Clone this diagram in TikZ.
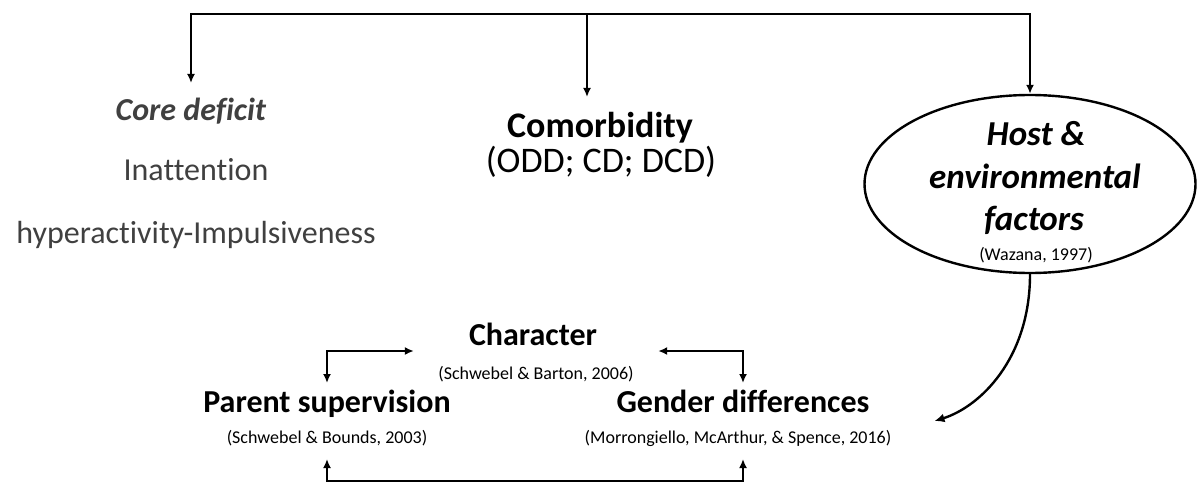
\documentclass[tikz,border=0pt]{standalone}
\usepackage{fontspec}
\setmainfont[Ligatures=NoCommon]{Carlito}
\usetikzlibrary{arrows.meta,shapes.geometric}
\definecolor{txtgray}{RGB}{64,64,64}
\begin{document}
\begin{tikzpicture}[x=1pt,y=-1pt,
  lbl/.style={inner sep=0pt, anchor=base},
  f32/.style={font=\fontsize{32}{38}\selectfont, text height=23pt, text depth=7pt},
  f36/.style={font=\fontsize{36}{42}\selectfont, text height=26pt, text depth=8pt},
  f35/.style={font=\fontsize{35}{42}\selectfont\bfseries\itshape},
  cite/.style={font=\fontsize{18}{22}\selectfont, text height=13pt, text depth=4pt},
  arr/.style={line width=1.9pt, -{Latex[length=9pt,width=8pt]}},
  biarr/.style={line width=1.9pt, {Latex[length=9pt,width=8pt]}-{Latex[length=9pt,width=8pt]}},
  ]
\useasboundingbox (0,0) rectangle (1198,484);

% left column
\node[lbl,f32,txtgray,outer ysep=15pt] (core) at (191,121) {\textbf{\textit{Core deficit}}};
\node[lbl,f32,txtgray] (inatt) at (196,180) {Inattention};
\node[lbl,f32,txtgray] (hyper) at (196,243) {hyperactivity-Impulsiveness};

% comorbidity
\node[lbl,f36,outer ysep=14pt] (comorb) at (600,137) {\textbf{Comorbidity}};
\node[lbl,f36] (odd) at (601,172) {(ODD; CD; DCD)};

% host ellipse
\node[draw, ellipse, line width=2.4pt, minimum width=331pt, minimum height=178pt, inner sep=0pt] (host) at (1030,184) {};
\node[lbl,f35] (hostA) at (1036,145) {Host \&};
\node[lbl,f35] (hostB) at (1035,188) {environmental};
\node[lbl,f35] (hostC) at (1034,230) {factors};
\node[lbl,cite] (hostD) at (1036,260) {(Wazana, 1997)};

% bottom group
\node[lbl,f32] (char) at (533,345) {\textbf{Character}};
\node[lbl,cite] (charcite) at (536,379) {(Schwebel \& Barton, 2006)};
\node[lbl,f32,outer ysep=6pt] (parent) at (327,412) {\textbf{Parent supervision}};
\node[lbl,cite,outer ysep=12pt] (parentcite) at (327,443) {(Schwebel \& Bounds, 2003)};
\node[lbl,f32,outer ysep=6pt] (gender) at (743,412) {\textbf{Gender differences}};
\node[lbl,cite,outer ysep=12pt] (gendercite) at (738,443) {(Morrongiello, McArthur, \& Spence, 2016)};

% top connectors
\coordinate (top) at (587,14);
\draw[arr] (top) -| (core.north);
\draw[arr] (top) -- (top |- comorb.north);
\draw[arr] (top) -| (host.north);

% curved arrow from ellipse
\draw[line width=2.4pt, -{Latex[length=10pt,width=9pt]}] (host.south) .. controls +(0,85) and +(45,-14) .. ([xshift=43pt,yshift=-3pt]gendercite.north east);

% brackets
\draw[biarr] ([xshift=-55pt,yshift=-6pt]char.base west) -| (parent.north);
\draw[biarr] ([xshift=61pt,yshift=-6pt]char.base east) -| (gender.north);
\coordinate (bot) at (535,481);
\draw[biarr] (parentcite.south) |- (bot) -| (gender.south |- gendercite.south);
\end{tikzpicture}
\end{document}
